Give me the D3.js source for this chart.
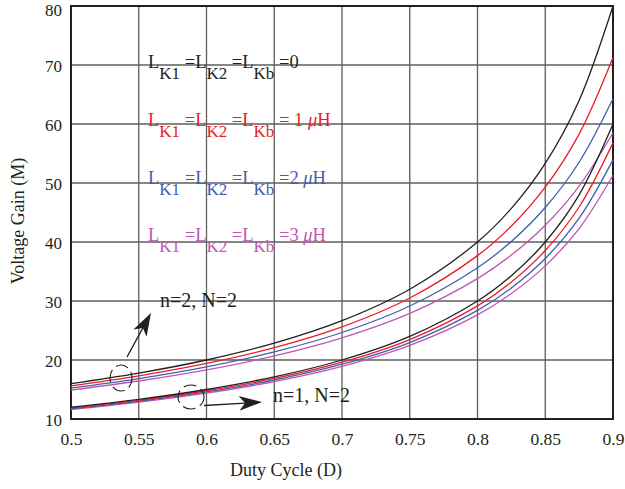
<!DOCTYPE html>
<html>
<head>
<meta charset="utf-8">
<script src="https://cdn.jsdelivr.net/npm/d3@7"></script>
<style>
  body { margin: 0; background: #fff; }
  svg { display: block; }
  text { font-family: "Liberation Serif", "DejaVu Serif", serif; }
</style>
</head>
<body>
<svg id="chart" width="625" height="489"></svg>
<script>
// Duty cycle sample points
const duty = [0.5, 0.55, 0.6, 0.65, 0.7, 0.75, 0.8, 0.825, 0.85, 0.875, 0.9];

// n=2, N=2 voltage gain for each leakage inductance
const gainN2_L0 = [16.00, 17.78, 20.00, 22.86, 26.67, 32.00, 40.00, 45.71, 53.33, 64.00, 80.00];
const gainN2_L1 = [15.62, 17.31, 19.41, 22.09, 25.62, 30.51, 37.69, 42.72, 49.31, 58.29, 71.28];
const gainN2_L2 = [15.25, 16.86, 18.85, 21.37, 24.66, 29.15, 35.64, 40.10, 45.85, 53.52, 64.27];
const gainN2_L3 = [14.91, 16.44, 18.32, 20.69, 23.76, 27.90, 33.80, 37.78, 42.84, 49.47, 58.51];

// n=1, N=2 voltage gain for each leakage inductance
const gainN1_L0 = [12.00, 13.33, 15.00, 17.14, 20.00, 24.00, 30.00, 34.29, 40.00, 48.00, 60.00];
const gainN1_L1 = [11.87, 13.17, 14.79, 16.87, 19.63, 23.47, 29.18, 33.22, 38.55, 45.93, 56.80];
const gainN1_L2 = [11.74, 13.00, 14.59, 16.61, 19.28, 22.96, 28.40, 32.21, 37.20, 44.03, 53.92];
const gainN1_L3 = [11.61, 12.85, 14.39, 16.35, 18.93, 22.48, 27.66, 31.27, 35.95, 42.28, 51.32];

const xTicks = [0.5, 0.55, 0.6, 0.65, 0.7, 0.75, 0.8, 0.85, 0.9];
const yTicks = [10, 20, 30, 40, 50, 60, 70, 80];

const colors = { L0: "#231f20", L1: "#ee1c25", L2: "#3f5fb0", L3: "#c056b0" };

const svg = d3.select("#chart");
const x = d3.scaleLinear().domain([0.5, 0.9]).range([71, 613]);
const y = d3.scaleLinear().domain([10, 80]).range([419, 6]);

// grid
const grid = svg.append("g");
grid.selectAll(".gx").data(xTicks).join("line")
  .attr("x1", d => x(d)).attr("x2", d => x(d))
  .attr("y1", y(80)).attr("y2", y(10))
  .attr("stroke", "#5e5e5e").attr("stroke-width", 1.3);
grid.selectAll(".gy").data(yTicks).join("line")
  .attr("x1", x(0.5)).attr("x2", x(0.9))
  .attr("y1", d => y(d)).attr("y2", d => y(d))
  .attr("stroke", "#5e5e5e").attr("stroke-width", 1.3);

// axes
const xAxis = svg.append("g").attr("transform", `translate(0,${y(10)})`)
  .call(d3.axisBottom(x).tickValues(xTicks).tickSize(0).tickPadding(14).tickFormat(d3.format("")));
const yAxis = svg.append("g").attr("transform", `translate(${x(0.5)},0)`)
  .call(d3.axisLeft(y).tickValues(yTicks).tickSize(0).tickPadding(9));
[xAxis, yAxis].forEach(a => {
  a.select(".domain").remove();
  a.selectAll("text").attr("fill", "#231f20")
    .style("font-family", '"Liberation Serif", serif');
});
xAxis.selectAll("text").attr("font-size", 17.5);
// the topmost label is kept fully inside the page
yAxis.selectAll("text").attr("font-size", 17)
  .attr("dy", d => d === 80 ? "0.54em" : "0.38em");

// frame
svg.append("rect")
  .attr("x", x(0.5)).attr("y", y(80))
  .attr("width", x(0.9) - x(0.5)).attr("height", y(10) - y(80))
  .attr("fill", "none").attr("stroke", "#231f20").attr("stroke-width", 2);

// curves
const line = d3.line().x((d, i) => x(duty[i])).y(d => y(d)).curve(d3.curveCatmullRom.alpha(0.5));
const series = [
  [gainN2_L3, colors.L3], [gainN2_L2, colors.L2], [gainN2_L1, colors.L1], [gainN2_L0, colors.L0],
  [gainN1_L3, colors.L3], [gainN1_L2, colors.L2], [gainN1_L1, colors.L1], [gainN1_L0, colors.L0]
];
svg.append("g").selectAll("path").data(series).join("path")
  .attr("d", d => line(d[0]))
  .attr("fill", "none").attr("stroke", d => d[1]).attr("stroke-width", 1.3);

// axis titles
svg.append("text").attr("x", 286).attr("y", 476).attr("text-anchor", "middle")
  .attr("font-size", 18).attr("fill", "#231f20").text("Duty Cycle (D)");
svg.append("text").attr("transform", "translate(24,221) rotate(-90)").attr("text-anchor", "middle")
  .attr("font-size", 18).attr("fill", "#231f20").text("Voltage Gain (M)");

// legend labels
const legend = [
  { tail: "=0", unit: false, color: colors.L0, yb: 68 },
  { tail: "= 1 ", unit: true, color: colors.L1, yb: 126 },
  { tail: "=2 ", unit: true, color: colors.L2, yb: 184 },
  { tail: "=3 ", unit: true, color: colors.L3, yb: 241 }
];
const subDrop = 11;
legend.forEach(l => {
  const t = svg.append("text").attr("x", 148).attr("y", l.yb).attr("font-size", 18.5).attr("fill", l.color);
  const subs = ["K1", "K2", "Kb"];
  subs.forEach((s, i) => {
    t.append("tspan").attr("dy", i > 0 ? -subDrop : 0).text(i > 0 ? " =L" : "L");
    t.append("tspan").attr("font-size", 17).attr("dy", subDrop).text(s);
  });
  t.append("tspan").attr("dy", -subDrop).text(" " + l.tail);
  if (l.unit) {
    t.append("tspan").attr("font-style", "italic").text("\u03bc");
    t.append("tspan").text("H");
  }
});

// annotations
svg.append("text").attr("x", 160).attr("y", 307).attr("font-size", 20).attr("fill", "#231f20").text("n=2, N=2");
svg.append("text").attr("x", 273).attr("y", 402).attr("font-size", 20).attr("fill", "#231f20").text("n=1, N=2");

const ann = svg.append("g").attr("fill", "none").attr("stroke", "#231f20").attr("stroke-width", 1.1);
ann.append("ellipse").attr("cx", 121).attr("cy", 378).attr("rx", 11).attr("ry", 13)
  .attr("stroke-dasharray", "13 5").attr("stroke-dashoffset", 3);
ann.append("ellipse").attr("cx", 191).attr("cy", 397).attr("rx", 13).attr("ry", 12)
  .attr("stroke-dasharray", "13 5").attr("stroke-dashoffset", 3);

// arrows
function arrow(x1, y1, x2, y2) {
  const ang = Math.atan2(y2 - y1, x2 - x1);
  const len = 23, half = 7.5, notch = 17;
  const ux = Math.cos(ang), uy = Math.sin(ang);
  const px = -uy, py = ux;
  const bx = x2 - ux * len, by = y2 - uy * len;
  const nx = x2 - ux * notch, ny = y2 - uy * notch;
  svg.append("line").attr("x1", x1).attr("y1", y1).attr("x2", nx).attr("y2", ny)
    .attr("stroke", "#231f20").attr("stroke-width", 1.3);
  svg.append("path")
    .attr("d", `M${x2},${y2}L${bx + px * half},${by + py * half}L${nx},${ny}L${bx - px * half},${by - py * half}Z`)
    .attr("fill", "#231f20");
}
arrow(127, 357, 151, 313);
arrow(204, 405.5, 262, 402);
</script>
</body>
</html>
